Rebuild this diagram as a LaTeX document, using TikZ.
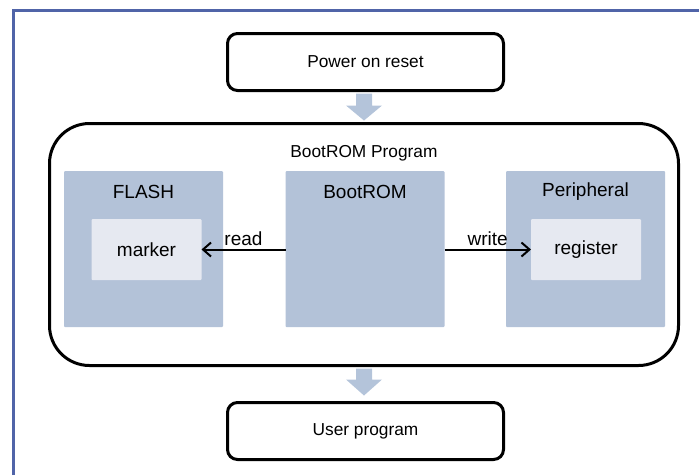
\documentclass[tikz,border=0pt]{standalone}
\usepackage{fontspec}
\setmainfont{Liberation Sans}
\usetikzlibrary{calc,arrows.meta}
\definecolor{framecol}{HTML}{5064A8}
\definecolor{blockcol}{HTML}{B3C2D8}
\definecolor{innercol}{HTML}{E6E9F1}
\definecolor{flowcol}{HTML}{B4C4DA}

\begin{document}
\begin{tikzpicture}[x=1pt,y=-1pt,
        every node/.style={inner sep=0pt, outer sep=0pt},
        stagebox/.style={draw, line width=3pt, rounded corners=10pt, minimum width=276pt, minimum height=57pt, font=\fontsize{17.3}{20}\selectfont},
        blockbox/.style={fill=blockcol, rounded corners=1pt, minimum width=159pt, minimum height=156pt},
        innerbox/.style={fill=innercol, rounded corners=1pt, minimum width=110pt, minimum height=61pt, font=\fontsize{19}{22}\selectfont},
        blocklabel/.style={font=\fontsize{19}{22}\selectfont},
        rw/.style={line width=2pt, -{Straight Barb[length=8pt,width=14pt]}},
        flowarrow/.style={fill=flowcol}]
            \useasboundingbox (0,0) rectangle (699,475);
            \draw[framecol, line width=3pt] (13,475) -- (13,10.5) -- (699,10.5);
            % stages
            \node[stagebox] (por) at (365.5,62) {Power on reset};
            \node[stagebox] (user) at (365.5,431) {User program};
            \node[draw, line width=3pt, rounded corners=40pt, minimum width=629pt, minimum height=242pt] (prog) at (364,244.5) {};
            \node[font=\fontsize{17.3}{20}\selectfont] (progtitle) at (364,153) {BootROM Program};
            % blocks
            \node[blockbox] (flash) at (143.5,249) {};
            \node[blocklabel] (flashlbl) at (143.5,192) {FLASH};
            \node[innerbox] (marker) at (146.5,249.5) {marker};
            \node[blockbox] (bootrom) at (365,249) {};
            \node[blocklabel] (bootromlbl) at (365,192) {BootROM};
            \node[blockbox] (periph) at (585.5,249) {};
            \node[blocklabel] (periphlbl) at (585.5,192) {Peripheral};
            \node[innerbox] (register) at (586,249.5) {register};
            % read / write
            \draw[rw] (bootrom.west |- marker.east) -- (marker.east) node[midway, above=4pt, blocklabel] {read};
            \draw[rw] (bootrom.east |- register.west) -- (register.west) node[midway, above=4pt, blocklabel] {write};
            % flow
            \fill[flowarrow] ($(por.south)+(-9.5,3)$) -- ++(16,0) -- ++(0,12) -- ++(10,0) -- ++(-18,15) -- ++(-18,-15) -- ++(10,0) -- cycle;
            \fill[flowarrow] ($(prog.south)+(-8,3)$) -- ++(16,0) -- ++(0,11) -- ++(10,0) -- ++(-18,16) -- ++(-18,-16) -- ++(10,0) -- cycle;
        \end{tikzpicture}
\end{document}
